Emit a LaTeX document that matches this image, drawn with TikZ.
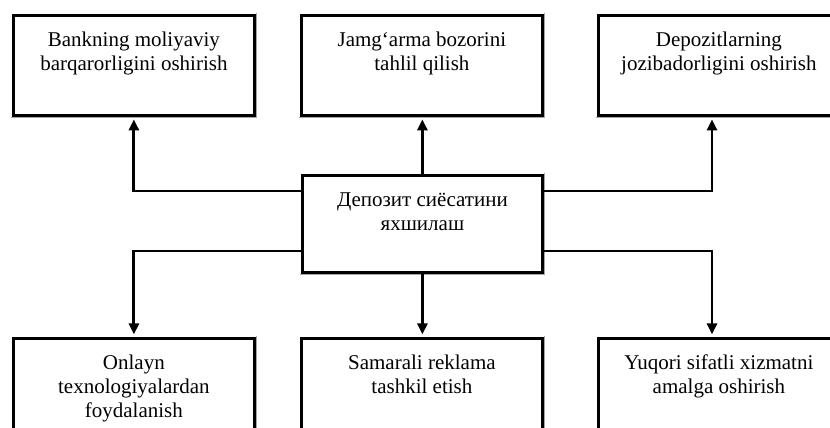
\documentclass[tikz,border=0pt]{standalone}
\usepackage{fontspec}
\setmainfont{Liberation Serif}
\usetikzlibrary{arrows.meta}
\tikzset{
  boxnode/.style={rectangle, anchor=north west, inner sep=0pt, fill=white,
    draw=black, line width=2.8pt, line join=miter, minimum width=241pt,
    text height=31pt, text depth=#1,
    preaction={draw=gray!70, line width=5.6pt, line join=miter},
    preaction={draw=white, line width=4pt, line join=miter},
    font=\fontsize{21}{24}\selectfont},
  boxnode/.default=69pt,
  arr/.style={draw=black, line width=2.9pt, line join=miter,
    -{Triangle[width=10pt,length=11pt]}, shorten >=2.6pt}
}
\begin{document}
\begin{tikzpicture}[x=1pt,y=-1pt]
\clip (0,0) rectangle (830,428);
\node[boxnode] (b1) at (12,14) {\parbox[t]{238pt}{\centering Bankning moliyaviy\\barqarorligini oshirish}};
\node[boxnode] (b2) at (300,14) {\parbox[t]{238pt}{\centering Jamg‘arma bozorini\\tahlil qilish}};
\node[boxnode] (b3) at (597,14) {\parbox[t]{238pt}{\centering Depozitlarning\\jozibadorligini oshirish}};
\node[boxnode=66pt, minimum width=240pt] (c) at (301,174) {\parbox[t]{238pt}{\centering Депозит сиёсатини\\яхшилаш}};
\node[boxnode] (b4) at (12,337) {\parbox[t]{238pt}{\centering Onlayn\\texnologiyalardan\\foydalanish}};
\node[boxnode] (b5) at (300,337) {\parbox[t]{238pt}{\centering Samarali reklama\\tashkil etish}};
\node[boxnode] (b6) at (597,337) {\parbox[t]{238pt}{\centering Yuqori sifatli xizmatni\\amalga oshirish}};
\coordinate (yu) at (0,191);
\coordinate (yl) at (0,251);
\coordinate (xr) at (712,0);
\draw[arr] (c.north) -- (c.north |- b2.south);
\draw[arr] (c.west |- yu) -| (b1.south);
\draw[arr] (c.east |- yu) -| (xr |- b3.south);
\draw[arr] (c.south) -- (c.south |- b5.north);
\draw[arr] (c.west |- yl) -| (b4.north);
\draw[arr] (c.east |- yl) -| (xr |- b6.north);
\end{tikzpicture}
\end{document}
